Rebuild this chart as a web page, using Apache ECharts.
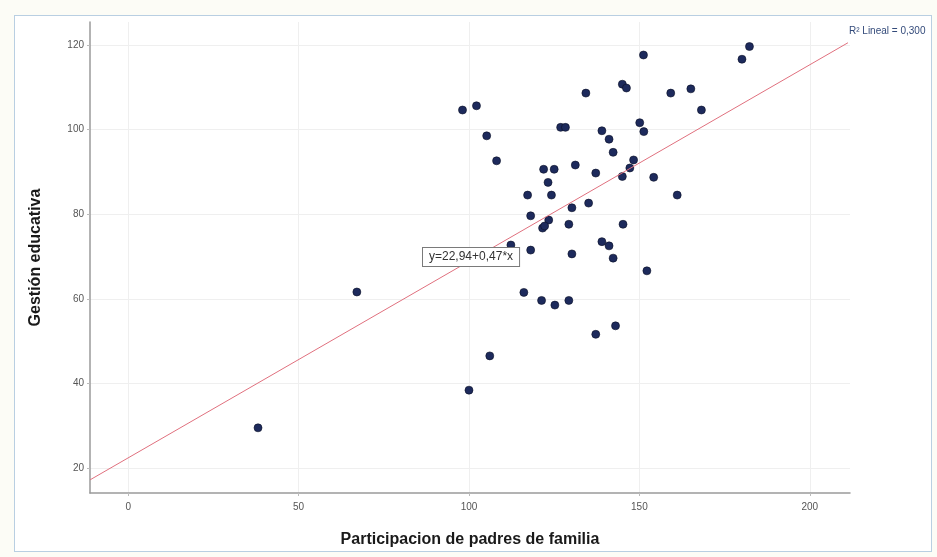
<!DOCTYPE html>
<html><head><meta charset="utf-8">
<script src="https://cdn.jsdelivr.net/npm/echarts@6/dist/echarts.min.js"></script>
<style>
html,body{margin:0;padding:0;background:#fcfcf6;}
#frame{position:absolute;left:14px;top:15px;width:916px;height:535px;border:1.5px solid #b9cfe2;background:#fff;}
#c{position:absolute;left:0;top:0;width:937px;height:557px;}
</style>
</head><body><div id="frame"></div><div id="c"></div>
<script>
// Participación de padres de familia (x) and Gestión educativa (y)
const participacion = [151.2,145.0,146.2,134.3,159.2,165.1,168.2,98.1,102.2,126.9,128.3,139.0,141.1,150.1,151.3,105.2,142.3,108.1,121.9,125.0,131.2,148.3,147.2,137.2,145.0,154.2,123.2,117.2,124.2,161.1,135.1,130.2,118.1,123.4,121.6,122.2,129.3,145.2,112.3,118.1,130.2,139.0,141.1,142.3,152.2,116.1,121.3,125.2,129.3,143.0,137.2,106.1,100.0,38.1,67.1,180.1,182.3];
const gestion       = [117.6,110.7,109.8,108.6,108.6,109.6,104.6,104.6,105.6,100.5,100.5,99.7,97.7,101.6,99.5,98.5,94.6,92.6,90.6,90.6,91.6,92.8,90.9,89.7,88.9,88.7,87.5,84.5,84.5,84.5,82.6,81.5,79.6,78.6,76.7,77.2,77.6,77.6,72.7,71.5,70.6,73.5,72.5,69.6,66.6,61.5,59.6,58.5,59.6,53.6,51.6,46.5,38.4,29.5,61.6,116.6,119.6];
const xTicks = [0,50,100,150,200];
const yTicks = [20,40,60,80,100,120];
const xRange = [-11.2, 211.8];
const yRange = [14.1, 125.4];
// fit line end points (y = 22,94 + 0,47*x)
const fitX = [-11.2, 211.2];
const fitY = [17.2, 120.5];
const equationText = 'y=22,94+0,47*x';
const r2Text = 'R² Lineal = 0,300';
const xTitle = 'Participacion de padres de familia';
const yTitle = 'Gestión educativa';

const points = participacion.map((x, i) => [x, gestion[i]]);
const fitLine = fitX.map((x, i) => [x, fitY[i]]);

const chart = echarts.init(document.getElementById('c'));
const font = 'Liberation Sans, Arial, sans-serif';
chart.setOption({
  animation: false,
  textStyle: {fontFamily: font},
  grid: {left: 90, right: 87, top: 22, bottom: 64, containLabel: false},
  xAxis: {
    type: 'value', min: xRange[0], max: xRange[1],
    name: xTitle, nameLocation: 'middle', nameGap: 39,
    nameTextStyle: {fontSize: 16, fontWeight: 'bold', color: '#1a1a1a', fontFamily: font},
    axisLine: {show: true, onZero: false, lineStyle: {color: '#9a9a9a', width: 1.5}},
    axisTick: {show: true, length: 3, customValues: xTicks, lineStyle: {color: '#bbb'}},
    axisLabel: {customValues: xTicks, fontSize: 10, color: '#555', margin: 9},
    splitLine: {show: true, lineStyle: {color: '#efefef', width: 1}}
  },
  yAxis: {
    type: 'value', min: yRange[0], max: yRange[1],
    name: yTitle, nameLocation: 'middle', nameGap: 46,
    nameTextStyle: {fontSize: 16, fontWeight: 'bold', color: '#1a1a1a', fontFamily: font},
    axisLine: {show: true, onZero: false, lineStyle: {color: '#9a9a9a', width: 1.5}},
    axisTick: {show: true, length: 3, customValues: yTicks, lineStyle: {color: '#bbb'}},
    axisLabel: {customValues: yTicks, fontSize: 10, color: '#555', margin: 6},
    splitLine: {show: true, lineStyle: {color: '#efefef', width: 1}}
  },
  series: [
    {
      type: 'scatter', data: points, symbolSize: 8,
      itemStyle: {color: '#1d2a5c', borderColor: '#0a0f25', borderWidth: 0.6, opacity: 1}
    },
    {
      type: 'line', data: fitLine, symbol: 'none', silent: true,
      lineStyle: {color: '#e0707e', width: 1}, z: 3
    }
  ],
  graphic: [
    {
      type: 'text', left: 422, top: 247, z: 100,
      style: {
        text: equationText, fontSize: 12, fontFamily: font, fill: '#333',
        backgroundColor: '#fff', borderColor: '#7a7a7a', borderWidth: 1, padding: [3, 6]
      }
    },
    {
      type: 'text', left: 849, top: 26, z: 100,
      style: {text: r2Text, fontSize: 10, fontFamily: font, fill: '#334a7a'}
    }
  ]
});
</script>
</body></html>
